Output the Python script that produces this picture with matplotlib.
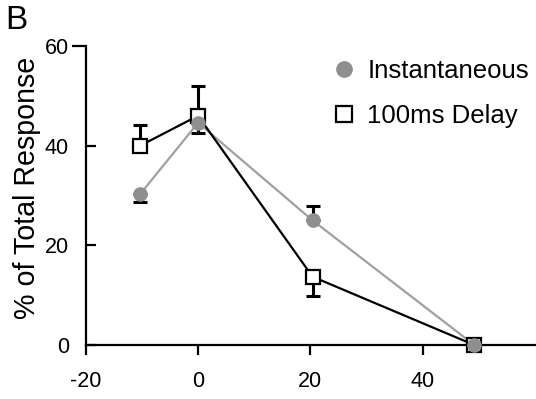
import matplotlib
matplotlib.use("Agg")
import matplotlib.pyplot as plt
import numpy as np

plt.rcParams['font.family'] = ['Liberation Sans', 'DejaVu Sans']
plt.rcParams['axes.unicode_minus'] = False

# Data
x_vals = [-10.3, 0, 20.4, 49.2]
inst_y = [30.3, 44.6, 25.0, 0]
inst_err_low = [1.7, 2.1, 0, 0]
inst_err_high = [0, 0, 2.8, 0]
delay_y = [40.0, 46.0, 13.7, 0]
delay_err_low = [0, 0, 3.8, 0]
delay_err_high = [4.2, 6.0, 0, 0]
x_ticks = [-20, 0, 20, 40]
y_ticks = [0, 20, 40]
labels = ['Instantaneous', '100ms Delay']

fig = plt.figure(figsize=(5.36, 3.99), dpi=100)
ax = fig.add_axes([0.160, 0.1353, 0.838, 0.7494])

gray_line = '#a0a0a0'
gray_mark = '#8f8f8f'

# error bars (black)
ax.errorbar(x_vals, delay_y, yerr=[delay_err_low, delay_err_high], fmt='none',
            ecolor='black', elinewidth=2.2, capsize=5, capthick=2.2, zorder=2)
ax.errorbar(x_vals, inst_y, yerr=[inst_err_low, inst_err_high], fmt='none',
            ecolor='black', elinewidth=2.2, capsize=5, capthick=2.2, zorder=2)

ax.plot(x_vals, inst_y, color=gray_line, lw=1.6, zorder=3, clip_on=False)
ax.plot(x_vals, delay_y, color='black', lw=1.6, zorder=4, clip_on=False)
ax.plot(x_vals, delay_y, linestyle='none', marker='s', markersize=9.5,
        markerfacecolor='white', markeredgecolor='black', markeredgewidth=1.6,
        zorder=5, clip_on=False)
ax.plot(x_vals, inst_y, linestyle='none', marker='o', markersize=9.5,
        markerfacecolor=gray_mark, markeredgecolor=gray_mark, zorder=6, clip_on=False)

ax.set_xlim(-20, 60)
ax.set_ylim(0, 60)
for s in ['top', 'right']:
    ax.spines[s].set_visible(False)
for s in ['left', 'bottom']:
    ax.spines[s].set_linewidth(1.6)
    ax.spines[s].set_zorder(1)

ax.set_xticks(x_ticks)
ax.set_xticklabels([str(v) for v in x_ticks])
ax.set_yticks(y_ticks)
ax.set_yticklabels([str(v) for v in y_ticks])
ax.set_yticks([60], minor=True)
ax.set_yticklabels(['60'], minor=True)
ax.tick_params(axis='x', direction='out', length=7.5, width=1.6, pad=11, labelsize=15.5)
ax.tick_params(axis='y', which='major', direction='in', length=7.5, width=1.6, pad=12, labelsize=15.5)
ax.tick_params(axis='y', which='minor', direction='out', length=10, width=1.6, pad=2, labelsize=15.5)

ax.set_ylabel('% of Total Response', fontsize=20.6)
ax.yaxis.set_label_coords(-0.10, 0.525)

from matplotlib.lines import Line2D
h1 = Line2D([], [], linestyle='none', marker='o', markersize=11,
            markerfacecolor=gray_mark, markeredgecolor=gray_mark)
h2 = Line2D([], [], linestyle='none', marker='s', markersize=11,
            markerfacecolor='white', markeredgecolor='black', markeredgewidth=1.6)
leg = ax.legend([h1, h2], labels, loc='upper left', bbox_to_anchor=(0.547, 0.955),
                frameon=False, fontsize=18.5, handlelength=1.0, handletextpad=0.4,
                labelspacing=0.78, borderpad=0, borderaxespad=0)

fig.text(0.009, 0.988, 'B', fontsize=24, va='top', ha='left')

fig.savefig('out.png', dpi=100)
